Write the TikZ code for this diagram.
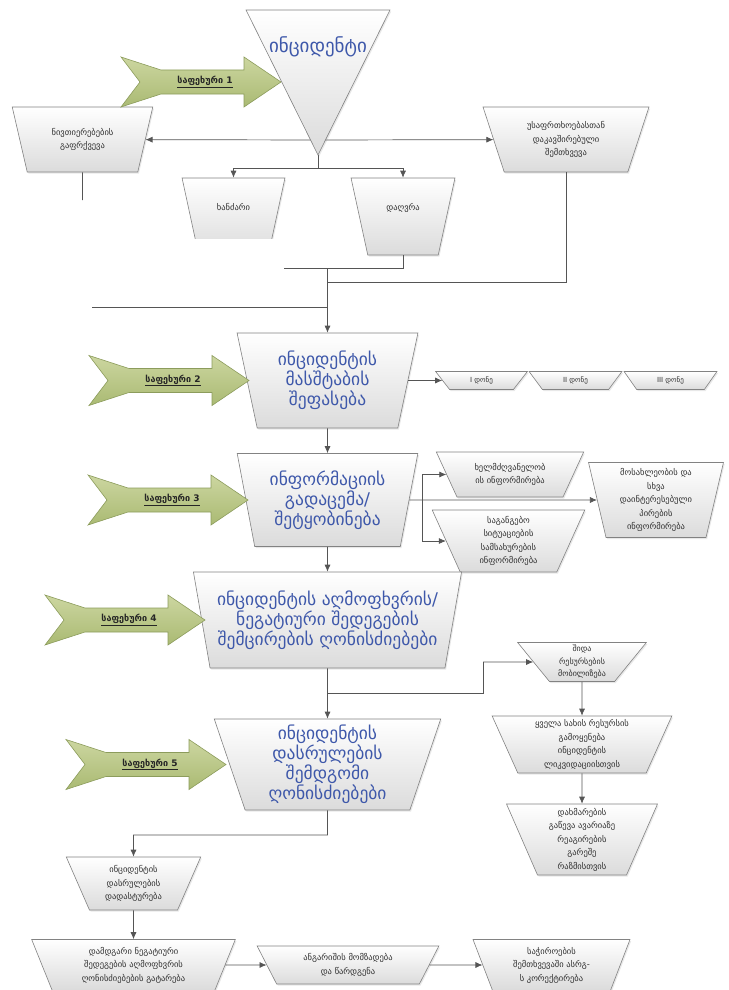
\documentclass[tikz,border=0pt]{standalone}
\usepackage{fontspec}
\setmainfont{DejaVu Sans}
\usetikzlibrary{shapes.geometric,shadows,arrows.meta}
\definecolor{bluetxt}{RGB}{62,88,170}
\definecolor{arrtop}{RGB}{204,214,160}
\definecolor{arrbot}{RGB}{170,186,115}
\definecolor{arrdraw}{RGB}{140,156,92}
\definecolor{boxdraw}{RGB}{130,130,130}
\definecolor{linec}{RGB}{85,85,85}
\newcommand\smallf{\fontsize{8.5}{13.5}\selectfont}
\newcommand\bigf{\fontsize{17.5}{20}\selectfont}
\newcommand\levf{\fontsize{7}{8}\selectfont}
\newcommand\stepf{\bfseries\fontsize{9}{10}\selectfont}
\newcommand\greenarrow[4]{%
  \begin{scope}[shift={(#2,#3)}]
    \draw[garrow] (-160,-25) -- (-120,-12) -- (-37,-12) -- (-37,-25) -- (0,0)
      -- (-37,25) -- (-37,12) -- (-120,12) -- (-160,25) -- (-141,0) -- cycle;
    \node[steplabel] (#1) at (-76,0) {\underline{საფეხური #4}};
  \end{scope}}
\tikzset{
  gbox/.style={trapezium, shape border rotate=180, trapezium stretches=true,
    draw=boxdraw, line width=0.6pt, top color=white, bottom color=black!14,
    drop shadow={opacity=0.18, shadow xshift=1.2pt, shadow yshift=-1.5pt},
    align=center, inner sep=0pt, text=black!82, font=\smallf},
  bbox/.style={gbox, text=bluetxt, font=\bigf},
  lbox/.style={gbox, font=\levf},
  garrow/.style={draw=arrdraw, line width=0.6pt, top color=arrtop, bottom color=arrbot},
  steplabel/.style={font=\stepf, text=black!85, inner sep=0pt},
  conn/.style={draw=linec, line width=0.7pt, -{Latex[length=7pt,width=6pt]}},
  plain/.style={draw=linec, line width=0.7pt},
}
\begin{document}
\begin{tikzpicture}[x=1pt,y=-1pt]
\useasboundingbox (0,0) rectangle (728,990);

% ---------- boxes ----------
\node[gbox, minimum width=141, minimum height=65, trapezium angle=69.7] (nivt) at (82.5,139.5) {ნივთიერებების\\გაფრქვევა};
\node[gbox, minimum width=166, minimum height=65, trapezium angle=69.7] (usaf) at (566,139.5) {უსაფრთხოებასთან\\დაკავშირებული\\შემთხვევა};
\begin{scope}
  \clip (150,150) rectangle (300,238);
  \node[gbox, minimum width=103, minimum height=77, trapezium angle=73.4] (xan) at (233.5,216.5) {ხანძარი\\[6pt]};
\end{scope}
\node[gbox, minimum width=104, minimum height=77, trapezium angle=73.4] (dal) at (403,216.5) {დაღვრა\\[6pt]};

\node[bbox, minimum width=181, minimum height=95, trapezium angle=76.4] (b2) at (327.5,380.5) {ინციდენტის\\მასშტაბის\\შეფასება};
\node[lbox, minimum width=92, minimum height=18, trapezium angle=56.3] (l1) at (481.5,380.5) {I დონე};
\node[lbox, minimum width=93, minimum height=18, trapezium angle=56.3] (l2) at (575.5,380.5) {II დონე};
\node[lbox, minimum width=93, minimum height=18, trapezium angle=56.3] (l3) at (670.5,380.5) {III დონე};

\node[bbox, minimum width=181, minimum height=93, trapezium angle=76.7] (b3) at (327.5,500) {ინფორმაციის\\გადაცემა/\\შეტყობინება};
\node[gbox, minimum width=148, minimum height=45, trapezium angle=58.6] (infA) at (510,474.5) {ხელმძღვანელობ\\ის ინფორმირება};
\node[gbox, minimum width=153, minimum height=62, trapezium angle=71.3] (infB) at (508.5,541) {საგანგებო\\სიტუაციების\\სამსახურების\\ინფორმირება};
\node[gbox, minimum width=136, minimum height=75, trapezium angle=78.7] (infC) at (656,500) {მოსახლეობის და\\სხვა\\დაინტერესებული\\პირების\\ინფორმირება};

\node[bbox, minimum width=269, minimum height=96, trapezium angle=75.1] (b4) at (327.5,620) {ინციდენტის აღმოფხვრის/\\ნეგატიური შედეგების\\შემცირების ღონისძიებები};
\node[gbox, minimum width=129, minimum height=39, trapezium angle=55.3, font=\fontsize{8}{12.5}\selectfont] (resD) at (582,662) {შიდა\\რესურსების\\მობილიზება};
\node[gbox, minimum width=180, minimum height=57, trapezium angle=69.3] (resE) at (582,744.5) {ყველა სახის რესურსის\\გამოყენება\\ინციდენტის\\ლიკვიდაციისთვის};
\node[gbox, minimum width=151, minimum height=71, trapezium angle=69.9] (resF) at (582,839.5) {დახმარების\\გაწევა ავარიაზე\\რეაგირების\\გარეშე\\რაზმისთვის};

\node[bbox, minimum width=227, minimum height=91, trapezium angle=74.3] (b5) at (327.5,764.5) {ინციდენტის\\დასრულების\\შემდგომი\\ღონისძიებები};
\node[gbox, minimum width=135, minimum height=53, trapezium angle=67.5] (finG) at (133.5,883.5) {ინციდენტის\\დასრულების\\დადასტურება};
\node[gbox, minimum width=204, minimum height=51, trapezium angle=70.1] (finH) at (133.5,965) {დამდგარი ნეგატიური\\შედეგების აღმოფხვრის\\ღონისძიებების გატარება};
\node[gbox, minimum width=182, minimum height=38, trapezium angle=61.7] (finI) at (348,965) {ანგარიშის მომზადება\\და წარდგენა};
\node[gbox, minimum width=157, minimum height=51, trapezium angle=70.6] (finJ) at (551.5,965) {საჭიროების\\შემთხვევაში ასრგ-\\ს კორექტირება};

% ---------- green step arrows ----------
\greenarrow{s1}{281}{82}{1}
\greenarrow{s2}{249}{380.5}{2}
\greenarrow{s3}{248}{500}{3}
\greenarrow{s4}{205}{620}{4}
\greenarrow{s5}{226}{764.5}{5}

% ---------- coordinates ----------
\coordinate (apex) at (318,155);
\coordinate (trimid) at (318,140);
\coordinate (split) at (318,168);
\coordinate (cutL) at (284,268);
\coordinate (m1) at (327.5,268);
\coordinate (m2) at (327.5,282);
\coordinate (m3) at (327.5,307);
\coordinate (cutLL) at (92,307);
\coordinate (nivtEnd) at (82.5,200);
\coordinate (t3) at (422,500);
\coordinate (k4) at (327.5,693);
\coordinate (kv) at (483,662);
\coordinate (g5) at (327.5,835);

% ---------- connectors ----------
\draw[conn] (trimid) -- (nivt);
\draw[conn] (trimid) -- (usaf);
\draw[plain] (apex) -- (split);
\draw[conn] (split) -| (xan);
\draw[conn] (split) -| (dal);
\draw[plain] (nivt.south) -- (nivtEnd);
\draw[plain] (dal.south) |- (cutL);
\draw[plain] (usaf.south) |- (m2);
\draw[plain] (cutLL) -- (m3);
\draw[conn] (m1) -- (b2);
\draw[conn] (b2) -- (l1);
\draw[conn] (b2) -- (b3);
\draw[conn] (b3) -- (infC);
\draw[conn] (t3) |- (infA);
\draw[conn] (t3) |- (infB);
\draw[conn] (b3) -- (b4);
\draw[conn] (b4) -- (b5);
\draw[plain] (k4) -| (kv);
\draw[conn] (kv) -- (resD);
\draw[conn] (resD) -- (resE);
\draw[conn] (resE) -- (resF);
\draw[conn] (b5.south) -- (g5) -| (finG);
\draw[conn] (finG) -- (finH);
\draw[conn] (finH) -- (finI);
\draw[conn] (finI) -- (finJ);

% ---------- incident triangle ----------
\draw[draw=boxdraw, line width=0.6pt, top color=white, bottom color=black!14,
  drop shadow={opacity=0.18, shadow xshift=1.2pt, shadow yshift=-1.5pt}]
  (246,10) -- (390,10) -- (apex) -- cycle;
\node[text=bluetxt, font=\fontsize{19}{22}\selectfont, inner sep=0pt] (inc) at (318,47) {ინციდენტი};
\end{tikzpicture}
\end{document}
